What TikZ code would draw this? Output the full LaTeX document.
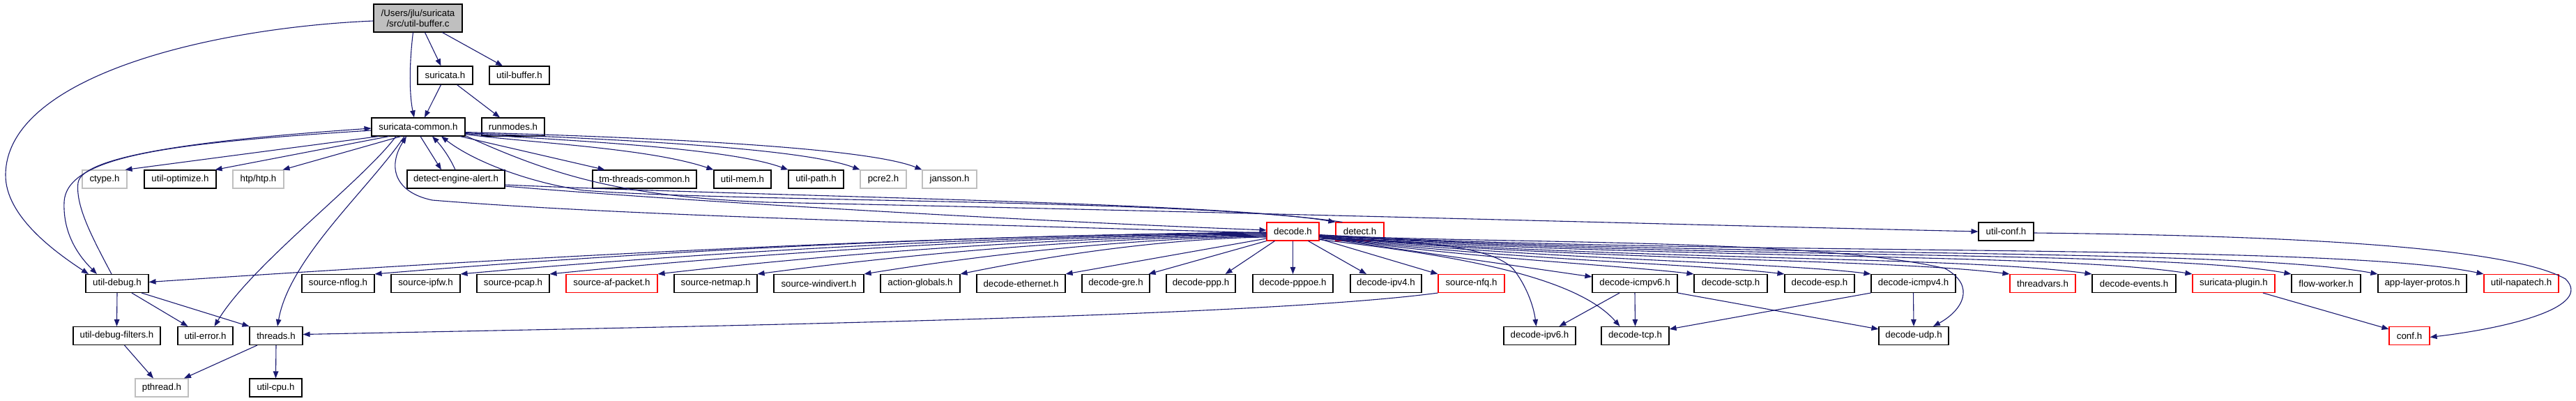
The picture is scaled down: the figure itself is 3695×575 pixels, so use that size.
\documentclass[tikz,border=0pt]{standalone}
\usepackage{fontspec}
\setmainfont{Liberation Sans}
\usetikzlibrary{arrows.meta}
\definecolor{edgecol}{HTML}{191970}
\definecolor{graybd}{HTML}{BFBFBF}
\begin{document}
\begin{tikzpicture}[x=1pt,y=-1pt,
  box/.style={draw=black, line width=1.1pt, minimum height=26pt, inner sep=0pt, font=\fontsize{13.3}{15}\selectfont, fill=white},
  gbox/.style={box, draw=graybd},
  rbox/.style={box, draw=red},
  dep/.style={draw=edgecol, line width=1.1pt, -{Triangle[length=10pt,width=7.5pt]}}]
\useasboundingbox (0,0) rectangle (3695,575);
% ---------- nodes ----------
\node[box, minimum width=127pt, minimum height=40pt, fill=graybd, align=center] (root) at (599.5,26) {/Users/jlu/suricata\\/src/util-buffer.c};
\node[box, minimum width=79pt] (suri) at (638.5,108) {suricata.h};
\node[box, minimum width=86pt] (ubufh) at (745,108) {util-buffer.h};
\node[box, minimum width=134pt] (sc) at (600,182) {suricata-common.h};
\node[box, minimum width=90pt] (runm) at (736,182) {runmodes.h};
\node[gbox, minimum width=64pt] (ctype) at (150,257) {ctype.h};
\node[box, minimum width=103pt] (uopt) at (258.5,257) {util-optimize.h};
\node[gbox, minimum width=73pt] (htp) at (370.5,257) {htp/htp.h};
\node[box, minimum width=140pt] (dea) at (654,257) {detect-engine-alert.h};
\node[box, minimum width=149pt] (tmtc) at (924.5,257) {tm-threads-common.h};
\node[box, minimum width=82pt] (umem) at (1065,257) {util-mem.h};
\node[box, minimum width=79pt] (upath) at (1170.5,257) {util-path.h};
\node[gbox, minimum width=66pt] (pcre) at (1267,257) {pcre2.h};
\node[gbox, minimum width=78pt] (jans) at (1362,257) {jansson.h};
\node[rbox, minimum width=75pt] (decode) at (1854.5,332) {decode.h};
\node[rbox, minimum width=69pt] (detect) at (1950.5,332) {detect.h};
\node[box, minimum width=79pt] (uconf) at (2877.5,332) {util-conf.h};
\node[box, minimum width=90pt] (udebug) at (168,406.5) {util-debug.h};
\node[box, minimum width=104pt] (nflog) at (485,406.5) {source-nflog.h};
\node[box, minimum width=99pt] (ipfw) at (610.5,406.5) {source-ipfw.h};
\node[box, minimum width=104pt] (pcap) at (736,406.5) {source-pcap.h};
\node[rbox, minimum width=131pt] (afp) at (877.5,406.5) {source-af-packet.h};
\node[box, minimum width=119pt] (netmap) at (1026.5,406.5) {source-netmap.h};
\node[box, minimum width=129pt] (windiv) at (1174.5,406.5) {source-windivert.h};
\node[box, minimum width=114pt] (actg) at (1320,406.5) {action-globals.h};
\node[box, minimum width=127pt] (eth) at (1464.5,406.5) {decode-ethernet.h};
\node[box, minimum width=97pt] (gre) at (1600.5,406.5) {decode-gre.h};
\node[box, minimum width=99pt] (ppp) at (1722.5,406.5) {decode-ppp.h};
\node[box, minimum width=115pt] (pppoe) at (1854.5,406.5) {decode-pppoe.h};
\node[box, minimum width=102pt] (ipv4) at (1988,406.5) {decode-ipv4.h};
\node[rbox, minimum width=95pt] (nfq) at (2110.5,406.5) {source-nfq.h};
\node[box, minimum width=122pt] (icmp6) at (2345,406.5) {decode-icmpv6.h};
\node[box, minimum width=105pt] (sctp) at (2482.5,406.5) {decode-sctp.h};
\node[box, minimum width=100pt] (esp) at (2610,406.5) {decode-esp.h};
\node[box, minimum width=121pt] (icmp4) at (2744.5,406.5) {decode-icmpv4.h};
\node[rbox, minimum width=94pt] (tvars) at (2930,406.5) {threadvars.h};
\node[box, minimum width=120pt] (events) at (3061,406.5) {decode-events.h};
\node[rbox, minimum width=118pt] (plugin) at (3204,406.5) {suricata-plugin.h};
\node[box, minimum width=99pt] (fworker) at (3336.5,406.5) {flow-worker.h};
\node[box, minimum width=127pt] (alp) at (3474.5,406.5) {app-layer-protos.h};
\node[rbox, minimum width=107pt] (napa) at (3616.5,406.5) {util-napatech.h};
\node[box, minimum width=125pt] (udf) at (167.5,481.5) {util-debug-filters.h};
\node[box, minimum width=79pt] (uerr) at (294.5,481.5) {util-error.h};
\node[box, minimum width=76pt] (threads) at (396,481.5) {threads.h};
\node[box, minimum width=103pt] (ipv6) at (2208.5,481.5) {decode-ipv6.h};
\node[box, minimum width=97pt] (tcp) at (2345.5,481.5) {decode-tcp.h};
\node[box, minimum width=100pt] (udp) at (2745,481.5) {decode-udp.h};
\node[rbox, minimum width=58pt] (conf) at (3456,481.5) {conf.h};
\node[gbox, minimum width=76pt] (pth) at (232,556) {pthread.h};
\node[box, minimum width=75pt] (ucpu) at (395.5,556) {util-cpu.h};
% ---------- edges: root ----------
\draw[dep] ([yshift=-4]root.west) .. controls (300,40) and (10,110) .. (8,250) .. controls (7,310) and (80,362) .. ([xshift=-41]udebug.north);
\draw[dep] ([xshift=-7]root.south) .. controls (586,100) and (588,140) .. ([xshift=-6]sc.north);
\draw[dep] ([xshift=10]root.south) -- ([xshift=-6]suri.north);
\draw[dep] ([xshift=35]root.south) -- ([xshift=-24]ubufh.north);
\draw[dep] ([xshift=-6]suri.south) -- ([xshift=9]sc.north);
\draw[dep] ([xshift=17]suri.south) -- ([xshift=-19]runm.north);
% ---------- edges: suricata-common ----------
\draw[dep] ([yshift=-5]sc.west) .. controls (250,205) and (95,222) .. (92,290) .. controls (90,340) and (118,372) .. ([xshift=-29]udebug.north);
\draw[dep] ([xshift=-8]udebug.north) .. controls (132,340) and (108,295) .. (112,262) .. controls (118,222) and (300,200) .. ([yshift=-2]sc.west);
\draw[dep] ([xshift=-57]sc.south) -- ([xshift=-3]ctype.north east);
\draw[dep] ([xshift=-42]sc.south) -- ([xshift=-2]uopt.north east);
\draw[dep] ([xshift=-25]sc.south) -- ([xshift=-2]htp.north east);
\draw[dep] ([xshift=-32]sc.south) .. controls (520,260) and (360,380) .. ([xshift=13]uerr.north);
\draw[dep] ([xshift=-20]sc.south) .. controls (530,270) and (415,370) .. ([xshift=2]threads.north);
\draw[dep] ([xshift=3]sc.south) -- ([xshift=-21]dea.north);
\draw[dep] ([xshift=-1]dea.north) .. controls (645,225) and (632,208) .. ([xshift=20]sc.south);
\draw[dep] ([xshift=60]sc.south) -- ([xshift=-57]tmtc.north);
\draw[dep] ([yshift=3]sc.south east) .. controls (760,205) and (930,212) .. (umem.north west);
\draw[dep] ([yshift=4]sc.south east) .. controls (780,200) and (1040,210) .. (upath.north west);
\draw[dep] ([yshift=5]sc.south east) .. controls (800,197) and (1140,208) .. (pcre.north west);
\draw[dep] ([yshift=6]sc.south east) .. controls (820,194) and (1230,206) .. (jans.north west);
\draw[dep] ([yshift=1]sc.south east) .. controls (800,255) and (900,282) .. (1100,290) .. controls (1800,305) and (2400,322) .. (uconf.west);
% ---------- edges: back to suricata-common ----------
\draw[dep] ([yshift=-2]decode.west) .. controls (1400,322) and (900,310) .. (620,287) .. controls (567,276) and (555,240) .. ([xshift=-17]sc.south);
\draw[dep] ([xshift=10]detect.north west) .. controls (1700,285) and (1050,290) .. (837,273) .. controls (760,262) and (680,232) .. ([xshift=33]sc.south);
% ---------- edges: detect-engine-alert ----------
\draw[dep] ([yshift=-10]dea.east) .. controls (1000,290) and (1500,318) .. ([yshift=2]decode.west);
\draw[dep] ([yshift=-8]dea.east) .. controls (1100,282) and (1750,290) .. (detect.north west);
% ---------- edges: decode.h fan left ----------
\draw[dep] ([yshift=-1]decode.west) .. controls (1300,338) and (700,372) .. ([yshift=2]udebug.east);
\draw[dep] ([yshift=-2]decode.west) .. controls (1395,336) and (921,361) .. (nflog.north east);
\draw[dep] ([yshift=-3]decode.west) .. controls (1435,337) and (1007,362) .. (ipfw.north east);
\draw[dep] ([yshift=-4]decode.west) .. controls (1477,338) and (1097,362) .. (pcap.north east);
\draw[dep] ([yshift=-5]decode.west) .. controls (1529,339) and (1205,363) .. (afp.north east);
\draw[dep] ([yshift=-6]decode.west) .. controls (1576,340) and (1305,364) .. (netmap.north east);
\draw[dep] ([yshift=-7]decode.west) .. controls (1626,341) and (1412,365) .. (windiv.north east);
\draw[dep] ([yshift=-8]decode.west) .. controls (1672,342) and (1509,366) .. (actg.north east);
\draw[dep] ([yshift=-10]decode.west) -- (eth.north east);
\draw[dep] (decode.south west) -- ([xshift=-2]gre.north east);
\draw[dep] ([xshift=12]decode.south west) -- ([xshift=-15]ppp.north east);
\draw[dep] (decode.south) -- (pppoe.north);
\draw[dep] ([xshift=22]decode.south) -- ([xshift=-28]ipv4.north);
\draw[dep] ([yshift=3]decode.south east) -- (nfq.north west);
\draw[dep] ([yshift=5]decode.south east) -- ([yshift=-4]icmp6.north west);
% ---------- edges: decode.h fan right ----------
\draw[dep] ([yshift=6]decode.south east) .. controls (2100,370) and (2320,380) .. (sctp.north west);
\draw[dep] ([yshift=6]decode.south east) .. controls (2150,372) and (2430,378) .. (esp.north west);
\draw[dep] ([yshift=6]decode.south east) .. controls (2200,372) and (2550,376) .. (icmp4.north west);
\draw[dep] ([yshift=7]decode.south east) .. controls (2250,374) and (2700,370) .. (tvars.north west);
\draw[dep] ([yshift=7]decode.south east) .. controls (2300,374) and (2800,366) .. (events.north west);
\draw[dep] ([yshift=7]decode.south east) .. controls (2350,372) and (2950,362) .. (plugin.north west);
\draw[dep] ([yshift=8]decode.south east) .. controls (2400,372) and (3100,358) .. (fworker.north west);
\draw[dep] ([yshift=8]decode.south east) .. controls (2450,370) and (3200,354) .. (alp.north west);
\draw[dep] ([yshift=8]decode.south east) .. controls (2500,368) and (3350,348) .. (napa.north west);
\draw[dep] ([yshift=9]decode.south east) .. controls (2100,350) and (2600,340) .. (2790,385) .. controls (2835,410) and (2815,445) .. ([xshift=28]udp.north);
\draw[dep] ([yshift=3]decode.south east) .. controls (2050,345) and (2140,355) .. (2170,385) .. controls (2190,410) and (2200,440) .. ([xshift=-5]ipv6.north);
\draw[dep] ([yshift=2]decode.south east) .. controls (2080,365) and (2260,395) .. ([xshift=-22]tcp.north);
% ---------- edges: lower rows ----------
\draw[dep] ([xshift=-22]icmp6.south) -- ([xshift=28]ipv6.north);
\draw[dep] (icmp6.south) -- (tcp.north);
\draw[dep] (icmp6.south east) -- ([yshift=-4]udp.north west);
\draw[dep] (icmp4.south west) -- ([yshift=-4]tcp.north east);
\draw[dep] (icmp4.south) -- (udp.north);
\draw[dep] (nfq.south west) .. controls (1800,455) and (1000,468) .. ([yshift=2]threads.east);
\draw[dep] (udebug.south) -- (udf.north);
\draw[dep] ([xshift=21]udebug.south) -- ([xshift=-25]uerr.north);
\draw[dep] ([xshift=35]udebug.south) -- (threads.north west);
\draw[dep] ([xshift=11]udf.south) -- ([xshift=-12]pth.north);
\draw[dep] ([xshift=-27]threads.south) -- ([xshift=32]pth.north);
\draw[dep] (threads.south) -- (ucpu.north);
\draw[dep] ([xshift=42]plugin.south) -- ([yshift=-4]conf.north west);
\draw[dep] ([yshift=-2]uconf.east) .. controls (3300,338) and (3600,355) .. (3680,400) .. controls (3720,440) and (3600,470) .. ([yshift=-2]conf.east);
\end{tikzpicture}
\end{document}
